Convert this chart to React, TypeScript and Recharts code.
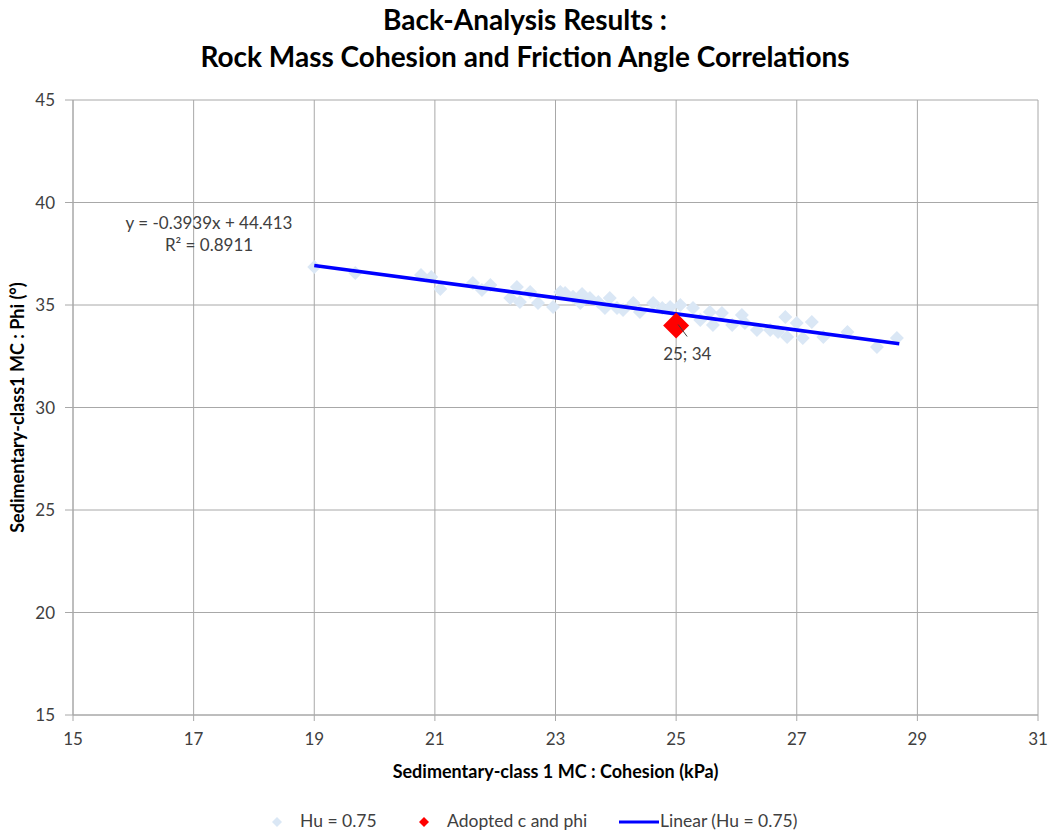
import { CartesianGrid, ReferenceDot, Scatter, ScatterChart, XAxis, YAxis } from "recharts"

// Hu = 0.75 back-analysis results (cohesion kPa, phi °)
const cohesion = [
  19.0, 19.68, 20.77, 20.94, 21.09, 21.63, 21.78, 21.92, 22.25, 22.36, 22.41, 22.58, 22.71, 22.96,
  23.08, 23.16, 23.29, 23.41, 23.44, 23.57, 23.71, 23.82, 23.9, 24.02, 24.12, 24.29, 24.4, 24.62,
  24.77, 24.9, 25.07, 25.28, 25.4, 25.56, 25.61, 25.76, 25.93, 26.09, 26.14, 26.34, 26.56, 26.69,
  26.81, 26.84, 27.0, 27.1, 27.25, 27.44, 27.84, 28.33, 28.66,
]
const phi = [
  36.85, 36.56, 36.46, 36.37, 35.78, 36.07, 35.73, 35.98, 35.34, 35.88, 35.15, 35.63, 35.1, 34.9,
  35.63, 35.58, 35.4, 35.1, 35.54, 35.34, 35.15, 34.85, 35.34, 34.85, 34.76, 35.1, 34.66, 35.1,
  34.85, 34.9, 35.0, 34.85, 34.27, 34.66, 34.02, 34.61, 34.02, 34.51, 34.12, 33.78, 33.78, 33.68,
  34.41, 33.44, 34.12, 33.39, 34.17, 33.44, 33.68, 32.95, 33.39,
]

const adoptedC = [25]
const adoptedPhi = [34]

// linear trend end points (Excel trendline)
const trendX = [19, 28.7]
const trendY = [36.93, 33.11]

const xTicks = [15, 17, 19, 21, 23, 25, 27, 29, 31]
const yTicks = [15, 20, 25, 30, 35, 40, 45]

const huData = cohesion.map((c, i) => ({ x: c, y: phi[i] }))
const adoptedData = adoptedC.map((c, i) => ({ x: c, y: adoptedPhi[i] }))
const trendData = trendX.map((t, i) => ({ x: t, y: trendY[i] }))

const font = "Lato, 'Open Sans', sans-serif"
const gray = "#404040"
const gridColor = "#a8a8a8"
const lightBlue = "#dae7f5"

const diamond = (r: number, fill: string) => (props: any) => {
  const { cx, cy } = props
  if (cx == null || cy == null) return <g />
  return <polygon points={`${cx},${cy - r} ${cx + r},${cy} ${cx},${cy + r} ${cx - r},${cy}`} fill={fill} />
}

export default function App() {
  return (
    <div style={{ position: "absolute", left: 0, top: 0, width: 1050, height: 834, background: "#fff", fontFamily: font }}>
      <div style={{ position: "absolute", left: 0, top: 1, width: 1050, textAlign: "center", fontWeight: 700, fontSize: 28, lineHeight: "37px", color: "#000" }}>
        <div>Back-Analysis Results :</div>
        <div>Rock Mass Cohesion and Friction Angle Correlations</div>
      </div>

      <ScatterChart width={1050} height={834} margin={{ top: 100, right: 12, bottom: 59, left: 13 }}>
        <CartesianGrid stroke={gridColor} strokeWidth={1} />
        <XAxis
          type="number"
          dataKey="x"
          domain={[15, 31]}
          ticks={xTicks}
          interval={0}
          height={60}
          stroke={gridColor}
          tickSize={6}
          tickMargin={12}
          tick={{ fill: gray, fontSize: 17, fontFamily: font }}
          label={{ value: "Sedimentary-class 1 MC : Cohesion (kPa)", position: "insideBottom", offset: -3, fill: "#000", fontSize: 18, fontWeight: 700, fontFamily: font }}
        />
        <YAxis
          type="number"
          dataKey="y"
          domain={[15, 45]}
          ticks={yTicks}
          interval={0}
          width={60}
          stroke={gridColor}
          tickSize={8}
          tickMargin={10}
          tick={{ fill: gray, fontSize: 17, fontFamily: font }}
          label={{ value: "Sedimentary-class1 MC : Phi (°)", angle: -90, position: "insideLeft", offset: 5, style: { textAnchor: "middle" }, fill: "#000", fontSize: 18, fontWeight: 700, fontFamily: font }}
        />
        <Scatter data={huData} fill={lightBlue} shape={diamond(7, lightBlue)} isAnimationActive={false} />
        <Scatter
          data={trendData}
          line={{ stroke: "#0000ff", strokeWidth: 3.5 }}
          shape={() => <g />}
          isAnimationActive={false}
        />
        <Scatter data={adoptedData} fill="#ff0000" shape={diamond(13, "#ff0000")} isAnimationActive={false} />
        <ReferenceDot
          x={adoptedC[0]}
          y={adoptedPhi[0]}
          shape={(p: any) => (
            <g>
              <line x1={p.cx + 2} y1={p.cy - 1} x2={p.cx + 11} y2={p.cy + 11} stroke={gray} strokeWidth={1} />
              <text x={p.cx - 13} y={p.cy + 34} textAnchor="start" fill={gray} fontSize={17} fontFamily={font}>
                {`${adoptedC[0]}; ${adoptedPhi[0]}`}
              </text>
            </g>
          )}
        />
      </ScatterChart>

      <div style={{ position: "absolute", left: 109, top: 212, width: 200, textAlign: "center", fontSize: 17, lineHeight: "22px", color: gray }}>
        <div>y = -0.3939x + 44.413</div>
        <div>R² = 0.8911</div>
      </div>

      <div style={{ position: "absolute", top: 810, left: 0, width: 1050, height: 24, fontSize: 17.5, color: gray }}>
        <svg style={{ position: "absolute", left: 272, top: 7 }} width={10} height={10}>
          <polygon points="5,0 10,5 5,10 0,5" fill={lightBlue} />
        </svg>
        <span style={{ position: "absolute", left: 300, top: 0 }}>Hu = 0.75</span>
        <svg style={{ position: "absolute", left: 419, top: 7 }} width={10} height={10}>
          <polygon points="5,0 10,5 5,10 0,5" fill="#ff0000" />
        </svg>
        <span style={{ position: "absolute", left: 447, top: 0 }}>Adopted c and phi</span>
        <svg style={{ position: "absolute", left: 619, top: 10 }} width={40} height={4}>
          <line x1={0} y1={2} x2={40} y2={2} stroke="#0000ff" strokeWidth={3} />
        </svg>
        <span style={{ position: "absolute", left: 660, top: 0 }}>Linear (Hu = 0.75)</span>
      </div>
    </div>
  )
}
